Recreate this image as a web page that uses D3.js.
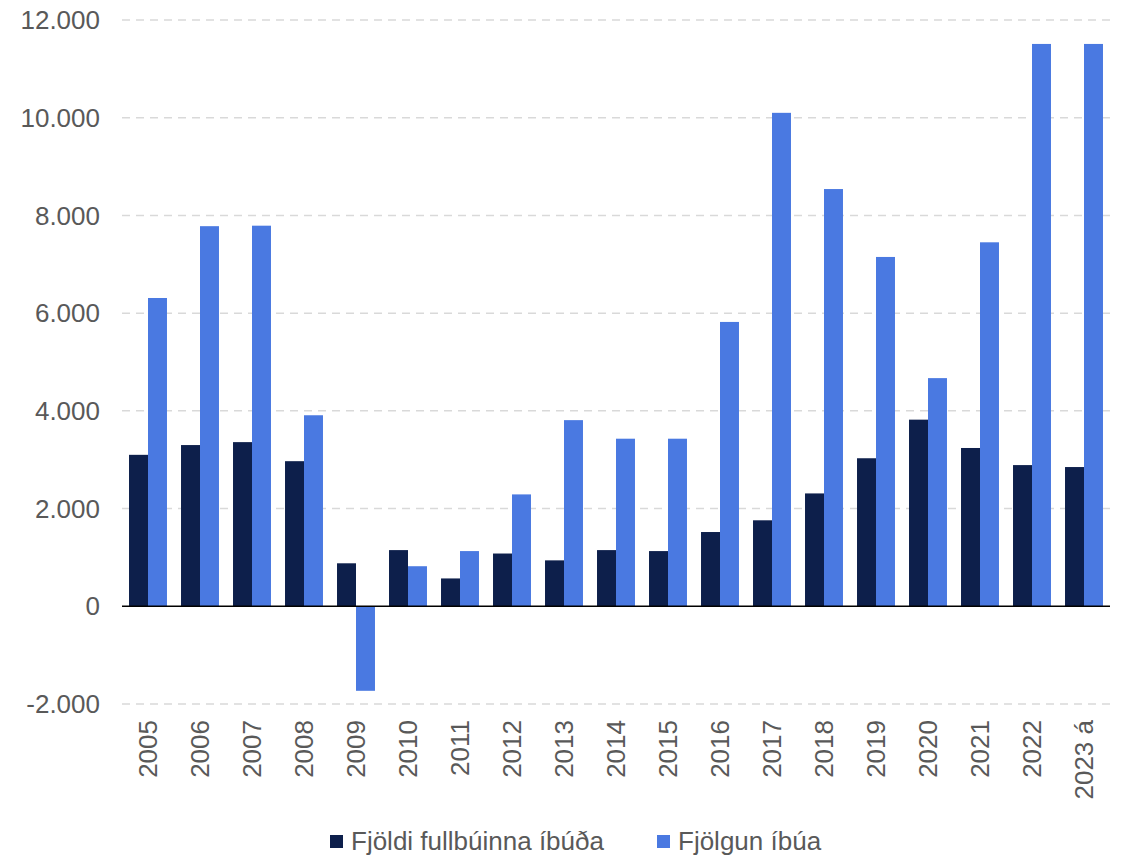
<!DOCTYPE html>
<html><head><meta charset="utf-8">
<script src="https://cdn.jsdelivr.net/npm/d3@7"></script>
<style>body{margin:0;background:#fff}text{font-family:"Liberation Sans",Arial,sans-serif}</style>
</head><body><svg id="c" width="1127" height="857"></svg>
<script>
const years = ["2005","2006","2007","2008","2009","2010","2011","2012","2013","2014","2015","2016","2017","2018","2019","2020","2021","2022","2023 á"];
const completed = [3100,3300,3360,2970,880,1150,570,1080,940,1150,1130,1520,1760,2310,3030,3820,3240,2890,2850];
const popGrowth = [6310,7780,7790,3910,-1730,820,1130,2290,3810,3430,3430,5820,10100,8540,7150,4670,7450,11510,11510];
const seriesNames = ["Fjöldi fullbúinna íbúða","Fjölgun íbúa"];
const yTicks = [-2000,0,2000,4000,6000,8000,10000,12000];
const colors = ["#0d1f4b","#4a79e1"];

const svg = d3.select("#c");
const y = d3.scaleLinear().domain([-2000,12000]).range([704,20]);
const x = d3.scaleBand().domain(years).range([122,1110]).paddingInner(0.27).paddingOuter(0.135);
const x1 = d3.scaleBand().domain([0,1]).range([0,x.bandwidth()]);
const fmt = v => (v<0?"-":"") + d3.format(",")(Math.abs(v)).replace(/,/g,".");

svg.append("g").selectAll("line").data(yTicks.filter(t=>t!==0)).join("line")
  .attr("x1",122).attr("x2",1110).attr("y1",d=>y(d)).attr("y2",d=>y(d))
  .attr("stroke","#d9d9d9").attr("stroke-width",1.5).attr("stroke-dasharray","8,6");

svg.append("g").selectAll("text").data(yTicks).join("text")
  .attr("x",100).attr("y",d=>y(d)).attr("dy","0.35em").attr("text-anchor","end")
  .attr("fill","#595959").attr("font-size",26).text(fmt);

const data = [completed,popGrowth];
data.forEach((vals,si)=>{
  svg.append("g").selectAll("rect").data(vals).join("rect")
    .attr("x",(d,i)=>x(years[i])+x1(si)).attr("width",x1.bandwidth())
    .attr("y",d=>y(Math.max(0,d))).attr("height",d=>Math.abs(y(d)-y(0)))
    .attr("fill",colors[si]);
});

svg.append("line").attr("x1",122).attr("x2",1110).attr("y1",y(0)).attr("y2",y(0))
  .attr("stroke","#000").attr("stroke-width",1.5);

svg.append("g").selectAll("text").data(years).join("text")
  .attr("transform",d=>`translate(${x(d)+x.bandwidth()/2},720) rotate(-90)`)
  .attr("dy","0.35em").attr("text-anchor","end").attr("fill","#595959").attr("font-size",26).text(d=>d);

const leg = [{x:330},{x:657}];
seriesNames.forEach((n,i)=>{
  svg.append("rect").attr("x",leg[i].x).attr("y",835).attr("width",13).attr("height",13).attr("fill",colors[i]);
  svg.append("text").attr("x",leg[i].x+21).attr("y",841).attr("dy","0.35em")
    .attr("fill","#595959").attr("font-size",26).text(n);
});
</script></body></html>
